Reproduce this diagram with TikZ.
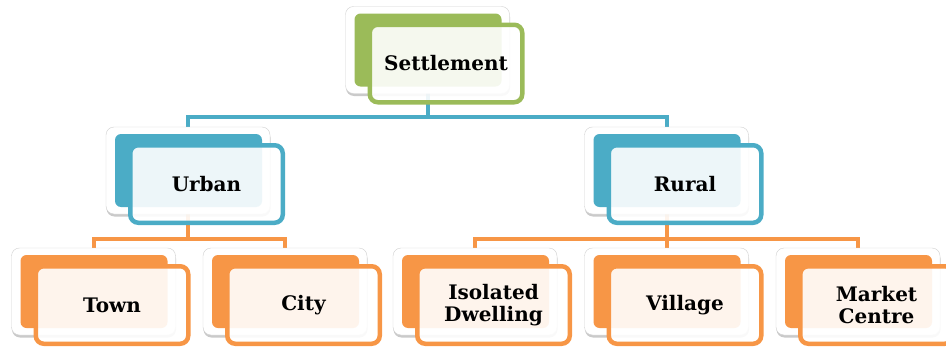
\documentclass[tikz,border=0pt]{standalone}
\usepackage{fontspec}
\setmainfont{DejaVu Serif}
\usepackage{tikz}
\usetikzlibrary{calc,shadows,backgrounds}
\definecolor{g}{HTML}{9BBB59}
\definecolor{t}{HTML}{4BACC6}
\definecolor{o}{HTML}{F79646}
% one box = white back card, coloured card, framed front card
\def\tbox#1#2#3#4{%
  \node[backbox] (#1) at (#2) {};
  \node[fillbox,fill=#3] at ($(#1.center)+(0.5,0)$) {};
  \node[frontbox,draw=#3] (#1-t) at ($(#1.center)+(18.5,13.5)$) {#4};}

\begin{document}
\begin{tikzpicture}[x=1pt,y=-1pt,font=\bfseries\fontsize{20}{22}\selectfont,
  backbox/.style={draw=black!18,fill=white,rounded corners=8pt,inner sep=0pt,
    minimum width=164pt,minimum height=87pt,
    drop shadow={shadow xshift=0.5pt,shadow yshift=-2.5pt,opacity=0.35,fill=black!60}},
  fillbox/.style={rounded corners=6pt,inner sep=0pt,minimum width=147pt,minimum height=73pt},
  frontbox/.style={line width=4.5pt,fill=white,fill opacity=0.9,text opacity=1,
    rounded corners=8pt,inner sep=0pt,align=center,minimum width=152.5pt,minimum height=77.5pt},
  link/.style={line width=4pt}]
  \useasboundingbox (0,0) rectangle (946,348);
  \tbox{set}{427.5,50}{g}{Settlement}
  \tbox{urb}{188,170.5}{t}{Urban}
  \tbox{rur}{666.5,170.5}{t}{Rural}
  \tbox{town}{93.5,291.5}{o}{Town}
  \tbox{city}{285,291.5}{o}{City}
  \tbox{iso}{475,291.5}{o}{Isolated\\Dwelling}
  \tbox{vil}{666.5,291.5}{o}{Village}
  \tbox{mkt}{858,291.5}{o}{Market\\Centre}
  \coordinate (bus1) at (0,117);
  \coordinate (bus2) at (0,239);
  \begin{scope}[on background layer]
    \draw[link,t] (set.center) -- (set.center |- bus1) -| (urb.center);
    \draw[link,t] (set.center |- bus1) -| (rur.center);
    \draw[link,o] (urb.center) -- (urb.center |- bus2) -| (town.center);
    \draw[link,o] (urb.center |- bus2) -| (city.center);
    \draw[link,o] (rur.center) -- (rur.center |- bus2) -| (iso.center);
    \draw[link,o] (rur.center |- bus2) -| (mkt.center);
    \draw[link,o] (rur.center |- bus2) -- (vil.center);
  \end{scope}
\end{tikzpicture}
\end{document}
